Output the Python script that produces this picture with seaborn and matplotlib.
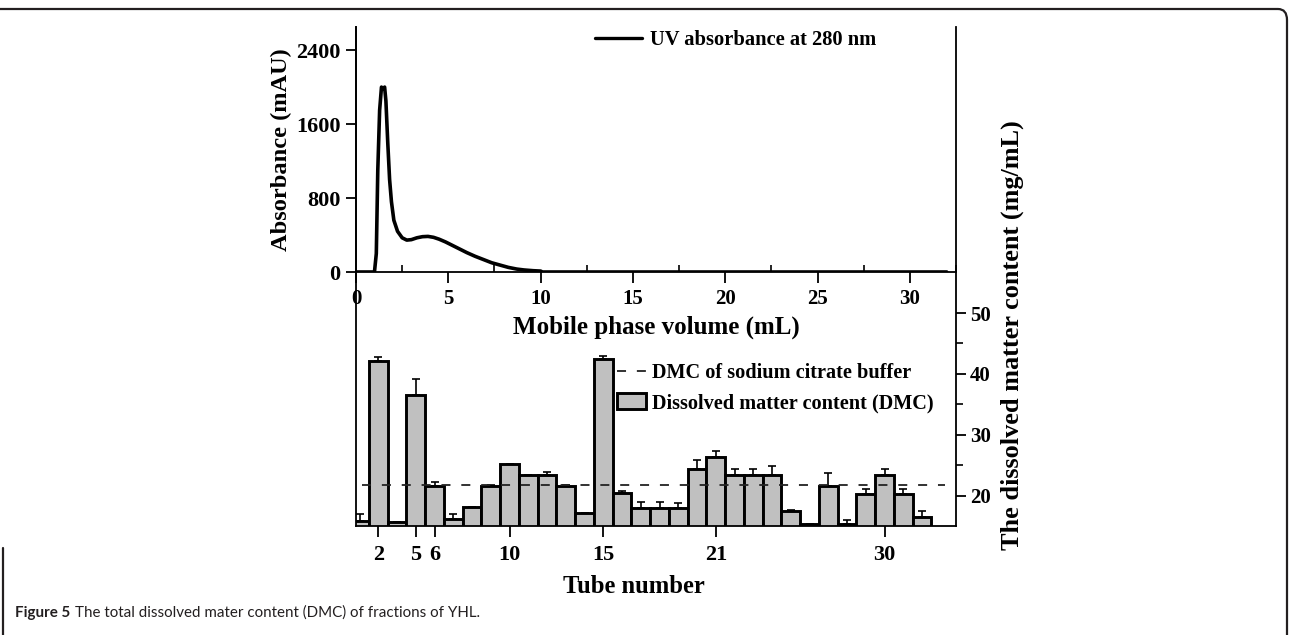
import numpy as np
import pandas as pd
import matplotlib
matplotlib.use("Agg")
import matplotlib.pyplot as plt
import seaborn as sns
from matplotlib.lines import Line2D
from matplotlib.patches import Patch, PathPatch
from matplotlib.path import Path

# ---------------- data ----------------
volume_ml = [0, 1.0, 1.1, 1.18, 1.28, 1.38, 1.45, 1.55, 1.62, 1.72, 1.82, 1.92,
             2.05, 2.25, 2.5, 2.75, 3.0, 3.3, 3.6, 3.9, 4.2, 4.5, 4.85, 5.2,
             5.55, 6.0, 6.45, 6.9, 7.35, 7.8, 8.25, 8.7, 9.1, 9.6, 10.0, 10.1, 32]
absorbance_mau = [0, 0, 200, 1100, 1750, 2000, 1980, 2000, 1850, 1400, 1000, 760,
                  560, 440, 370, 345, 350, 370, 382, 385, 375, 355, 325, 290,
                  255, 210, 170, 135, 100, 75, 50, 32, 22, 14, 10, 0, 0]

tube_numbers = [1, 2, 3, 5, 6, 7, 8, 9, 10, 11, 12, 13, 14, 15, 16, 17, 18, 19,
                20, 21, 22, 23, 24, 25, 26, 27, 28, 29, 30, 31, 32]
dmc_values = [15.9, 42.1, 15.6, 36.6, 21.5, 16.2, 18.2, 21.5, 25.2, 23.3, 23.3,
              21.5, 17.2, 42.5, 20.5, 18.0, 18.0, 18.0, 24.4, 26.4, 23.3, 23.3,
              23.3, 17.4, 15.4, 21.6, 15.25, 20.3, 23.3, 20.3, 16.4]
dmc_errors = [1.1, 0.7, 0.0, 2.5, 0.8, 0.8, 0.0, 0.2, 0.0, 0.0, 0.5,
              0.3, 0.0, 0.5, 0.2, 1.0, 1.0, 0.8, 1.5, 1.0, 1.1, 1.1,
              1.5, 0.3, 0.0, 2.1, 0.7, 0.8, 1.1, 0.8, 1.0]
buffer_dmc = 21.8

tube_tick_labels = [2, 5, 6, 10, 15, 21, 30]
uv_xticks = [0, 5, 10, 15, 20, 25, 30]
uv_yticks = [0, 800, 1600, 2400]
dmc_yticks = [20, 30, 40, 50]
dmc_minor_yticks = [25, 35, 45]

# ---------------- style ----------------
sns.set_theme(style="white")
plt.rcParams["font.family"] = ["Liberation Serif", "DejaVu Serif"]
plt.rcParams["font.weight"] = "bold"
plt.rcParams["axes.labelweight"] = "bold"
plt.rcParams["text.color"] = "black"
plt.rcParams["axes.labelcolor"] = "black"
plt.rcParams["xtick.color"] = "black"
plt.rcParams["ytick.color"] = "black"

W, H = 1289, 635
fig = plt.figure(figsize=(W / 100, H / 100), dpi=100)
fig.patch.set_facecolor("white")


def fx(px):
    return px / W


def fy(py):
    return 1 - py / H


# ---------------- bar axes (lower panel, full height frame) ----------------
ax_bar = fig.add_axes([fx(356), fy(526), 600 / W, 499 / H])
df_bar = pd.DataFrame({"tube": [str(t) for t in tube_numbers], "dmc": dmc_values})
sns.barplot(data=df_bar, x="tube", y="dmc", order=list(df_bar["tube"]),
            color="#c0c0c0", saturation=1, width=1.0, edgecolor="black",
            linewidth=2.1, errorbar=None, ax=ax_bar, zorder=2)
pos = np.arange(len(tube_numbers))
ax_bar.errorbar(pos, dmc_values, yerr=[np.zeros(len(pos)), dmc_errors],
                fmt="none", ecolor="black", elinewidth=1.2, capsize=3,
                capthick=1.2, zorder=3)
ax_bar.hlines(buffer_dmc, 0.13, 31.2, colors="#222222", linestyles=(0, (5, 6)),
              linewidth=1.3, zorder=4)

ax_bar.set_xlim(-0.19, 31.81)
ax_bar.set_ylim(15, 97)
ax_bar.set_xticks([tube_numbers.index(t) for t in tube_tick_labels])
ax_bar.set_xticklabels([str(t) for t in tube_tick_labels])
ax_bar.yaxis.tick_right()
ax_bar.set_yticks(dmc_yticks)
ax_bar.set_yticks(dmc_minor_yticks, minor=True)
ax_bar.tick_params(axis="x", which="major", direction="out", length=8, width=1.3,
                   labelsize=16, pad=6, bottom=True)
ax_bar.tick_params(axis="y", which="major", direction="out", length=7, width=1.3,
                   labelsize=15, pad=3, right=True, left=False)
ax_bar.tick_params(axis="y", which="minor", direction="out", length=5, width=1.2,
                   right=True, left=False)
ax_bar.set_xlabel("Tube number", fontsize=17.7)
ax_bar.xaxis.set_label_coords(0.463, -0.099)
ax_bar.set_ylabel("")
ax_bar.spines["top"].set_visible(False)
for s in ["left", "right", "bottom"]:
    ax_bar.spines[s].set_color("black")
    ax_bar.spines[s].set_linewidth(1.3)
ax_bar.patch.set_alpha(0)

bar_handles = [Line2D([], [], color="#222222", lw=1.3, linestyle=(0, (5, 6))),
               Patch(facecolor="#c0c0c0", edgecolor="black", linewidth=2.1)]
ax_bar.legend(handles=bar_handles,
              labels=["DMC of sodium citrate buffer", "Dissolved matter content (DMC)"],
              loc="upper left", bbox_to_anchor=(fx(617), fy(363)),
              bbox_transform=fig.transFigure, frameon=False, fontsize=14.6,
              handlelength=1.45, handleheight=0.85, handletextpad=0.3,
              labelspacing=0.5, borderpad=0, borderaxespad=0)

# ---------------- UV axes (upper panel) ----------------
ax_uv = fig.add_axes([fx(356), fy(272), 600 / W, 245 / H])
sns.lineplot(x=volume_ml, y=absorbance_mau, color="black", linewidth=2.6,
             ax=ax_uv, estimator=None, sort=False)
ax_uv.set_xlim(0, 32)
ax_uv.set_ylim(0, 2650)
ax_uv.set_xticks(uv_xticks)
ax_uv.set_xticks([2.5 + 5 * i for i in range(7)], minor=True)
ax_uv.set_yticks(uv_yticks)
ax_uv.tick_params(axis="x", which="major", direction="out", length=8, width=1.3,
                  labelsize=15, pad=4, bottom=True)
ax_uv.tick_params(axis="x", which="minor", direction="in", length=5, width=1.2,
                  bottom=True)
ax_uv.tick_params(axis="y", which="major", direction="out", length=7, width=1.3,
                  labelsize=16, pad=4, left=True)
ax_uv.set_xlabel("Mobile phase volume (mL)", fontsize=18, labelpad=5)
ax_uv.set_ylabel("Absorbance (mAU)", fontsize=17.6, labelpad=3)
ax_uv.spines["top"].set_visible(False)
ax_uv.spines["right"].set_visible(False)
for s in ["left", "bottom"]:
    ax_uv.spines[s].set_color("black")
    ax_uv.spines[s].set_linewidth(1.3)
ax_uv.patch.set_alpha(0)
ax_uv.legend(handles=[Line2D([], [], color="black", lw=2.4)],
             labels=["UV absorbance at 280 nm"], loc="center left",
             bbox_to_anchor=(fx(595), fy(40)), bbox_transform=fig.transFigure,
             frameon=False, fontsize=14.8, handlelength=2.28, handletextpad=0.4,
             borderpad=0, borderaxespad=0)

# right axis label
fig.text(fx(1012), fy(335), "The dissolved matter content (mg/mL)", rotation=90,
         ha="center", va="center", fontsize=18.9, fontweight="bold")

# ---------------- caption and frame ----------------
cap_font = ["Lato", "DejaVu Sans"]
t1 = fig.text(fx(15), fy(613), "Figure 5", fontsize=10.9, fontweight="bold",
              family=cap_font, va="center", ha="left", color="#231f20")
fig.canvas.draw()
bb = t1.get_window_extent()
t2 = fig.text((bb.x1 + 5) / W, fy(613),
              "The total dissolved mater content (DMC) of fractions of YHL.",
              fontsize=10.9, fontweight="normal", family=cap_font,
              va="center", ha="left", color="#231f20")

frame_path = Path([(0, fy(9)), (fx(1278), fy(9)), (fx(1287), fy(9)), (fx(1287), fy(20)),
                   (fx(1287), fy(640))],
                  [Path.MOVETO, Path.LINETO, Path.CURVE3, Path.CURVE3, Path.LINETO])
fig.add_artist(PathPatch(frame_path, transform=fig.transFigure, fill=False,
                         edgecolor="#231f20", linewidth=1.6))
fig.add_artist(Line2D([fx(3), fx(3)], [fy(548), fy(640)], transform=fig.transFigure,
                      color="#231f20", linewidth=1.6))

fig.savefig("out.png", dpi=100)
